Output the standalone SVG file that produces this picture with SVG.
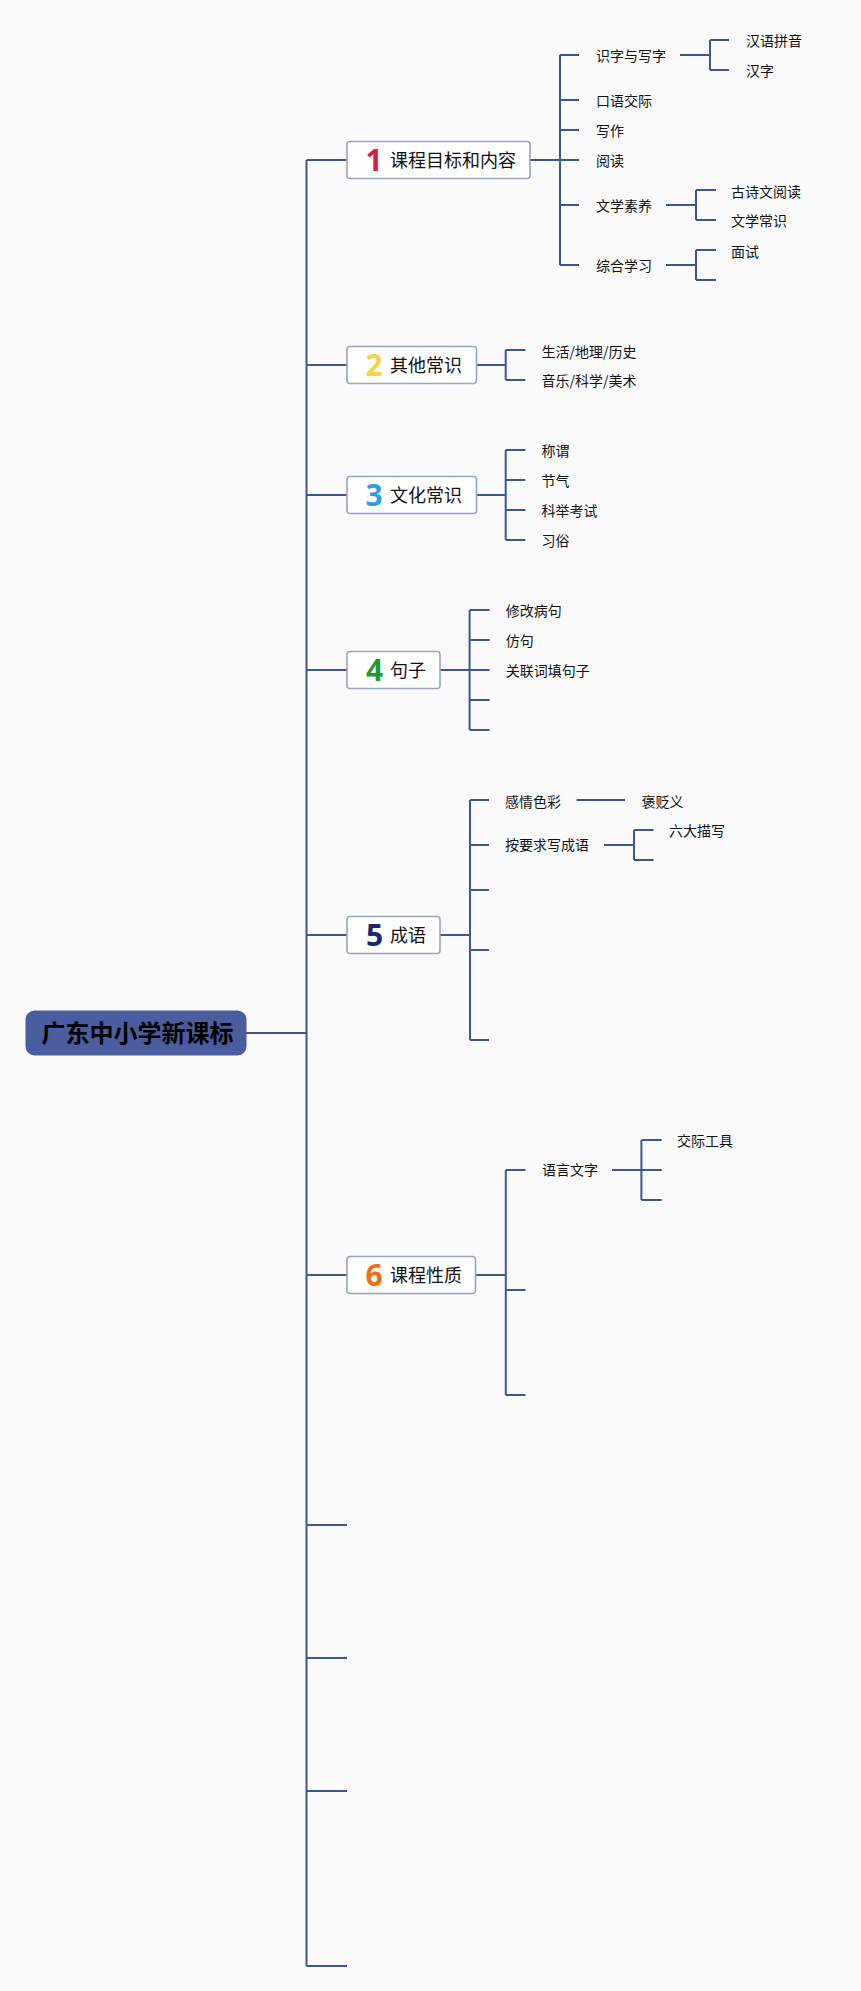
<svg xmlns="http://www.w3.org/2000/svg" width="861" height="1991" viewBox="0 0 861 1991">
<style>
.ln{fill:none;stroke:#3f5591;stroke-width:2;stroke-linecap:butt}
.box{fill:#ffffff;stroke:#98a3c6;stroke-width:1.6}
.lbl{font-family:"Noto Sans CJK SC","Noto Sans",sans-serif;font-size:18px;fill:#111}
.num{font-family:"Noto Sans","Liberation Sans",sans-serif;font-size:30px;font-weight:bold;text-anchor:middle}
.t{font-family:"Noto Sans CJK SC","Noto Sans",sans-serif;font-size:14px;fill:#111}
.root{font-family:"Noto Sans CJK SC","Noto Sans",sans-serif;font-size:24px;font-weight:bold;fill:#000}
</style>
<rect width="861" height="1991" fill="#fafafb"/>
<g id="connectors">
<path class="ln" d="M306.5 160V1966M246 1033H306.5M306.5 160H347M306.5 365H347M306.5 495H347M306.5 670H347M306.5 935H347M306.5 1275H347M306.5 1525H347M306.5 1658H347M306.5 1791H347M306.5 1966H347"/>
<path class="ln" d="M530 160H560M560 55V265M560 55H579M560 100H579M560 130H579M560 160H579M560 205H579M560 265H579"/>
<path class="ln" d="M680 55H710M710 40V70M710 40H729M710 70H729"/>
<path class="ln" d="M666 205H696M696 190V220M696 190H716M696 220H716"/>
<path class="ln" d="M666 265H696M696 250V280M696 250H716M696 280H716"/>
<path class="ln" d="M476.5 365H505.7M505.7 350V380M505.7 350H525.4M505.7 380H525.4"/>
<path class="ln" d="M476.5 495H505.7M505.7 450V540M505.7 450H525.4M505.7 480H525.4M505.7 510H525.4M505.7 540H525.4"/>
<path class="ln" d="M440 670H469.6M469.6 610V730M469.6 610H489.6M469.6 640H489.6M469.6 670H489.6M469.6 700H489.6M469.6 730H489.6"/>
<path class="ln" d="M440 935H470M470 800V1040M470 800H489M470 845H489M470 890H489M470 950H489M470 1040H489"/>
<path class="ln" d="M576.6 800H625M604 845H634M634 830V860M634 830H653.5M634 860H653.5"/>
<path class="ln" d="M475.5 1275H505.8M505.8 1170V1395M505.8 1170H525.5M505.8 1290H525.5M505.8 1395H525.5"/>
<path class="ln" d="M612 1170H641.4M641.4 1140V1200M641.4 1140H661.7M641.4 1170H661.7M641.4 1200H661.7"/>
</g>
<g id="root">
<rect x="25.5" y="1010.5" width="221" height="45" rx="9" fill="#4a5d9f"/>
<text class="root" x="41.5" y="1041.5">广东中小学新课标</text>
</g>
<g id="node1">
<rect class="box" x="347" y="141.5" width="183" height="37" rx="3"/>
<text class="num" x="374" y="170.5" fill="#d3223b">1</text>
<text class="lbl" x="390" y="166.5">课程目标和内容</text>
</g>
<g id="node2">
<rect class="box" x="347" y="346.5" width="129.5" height="37" rx="3"/>
<text class="num" x="374" y="375.5" fill="#f3d54a">2</text>
<text class="lbl" x="390" y="371.5">其他常识</text>
</g>
<g id="node3">
<rect class="box" x="347" y="476.5" width="129.5" height="37" rx="3"/>
<text class="num" x="374" y="505.5" fill="#2a9fdc">3</text>
<text class="lbl" x="390" y="501.5">文化常识</text>
</g>
<g id="node4">
<rect class="box" x="347" y="651.5" width="93" height="37" rx="3"/>
<text class="num" x="374.5" y="680.5" fill="#1f9a2c">4</text>
<text class="lbl" x="390" y="676.5">句子</text>
</g>
<g id="node5">
<rect class="box" x="347" y="916.5" width="93" height="37" rx="3"/>
<text class="num" x="374.5" y="945.5" fill="#1b2672">5</text>
<text class="lbl" x="390" y="941.5">成语</text>
</g>
<g id="node6">
<rect class="box" x="347" y="1256.5" width="128.5" height="37" rx="3"/>
<text class="num" x="374" y="1285.5" fill="#f26c12">6</text>
<text class="lbl" x="390" y="1281.5">课程性质</text>
</g>
<g id="leaves1">
<text class="t" x="596" y="61">识字与写字</text>
<text class="t" x="596" y="106">口语交际</text>
<text class="t" x="596" y="136">写作</text>
<text class="t" x="596" y="166">阅读</text>
<text class="t" x="596" y="211">文学素养</text>
<text class="t" x="596" y="271">综合学习</text>
<text class="t" x="746" y="46">汉语拼音</text>
<text class="t" x="746" y="76">汉字</text>
<text class="t" x="731" y="197">古诗文阅读</text>
<text class="t" x="731" y="226">文学常识</text>
<text class="t" x="731" y="257">面试</text>
</g>
<g id="leaves2">
<text class="t" x="541.5" y="357">生活/地理/历史</text>
<text class="t" x="541.5" y="386">音乐/科学/美术</text>
</g>
<g id="leaves3">
<text class="t" x="541.5" y="456">称谓</text>
<text class="t" x="541.5" y="486">节气</text>
<text class="t" x="541.5" y="516">科举考试</text>
<text class="t" x="541.5" y="546">习俗</text>
</g>
<g id="leaves4">
<text class="t" x="505.7" y="616">修改病句</text>
<text class="t" x="505.7" y="646">仿句</text>
<text class="t" x="505.7" y="676">关联词填句子</text>
</g>
<g id="leaves5">
<text class="t" x="505" y="806.5">感情色彩</text>
<text class="t" x="641.4" y="806.5">褒贬义</text>
<text class="t" x="505" y="850">按要求写成语</text>
<text class="t" x="669" y="835.5">六大描写</text>
</g>
<g id="leaves6">
<text class="t" x="542" y="1175">语言文字</text>
<text class="t" x="677" y="1146">交际工具</text>
</g>
</svg>
